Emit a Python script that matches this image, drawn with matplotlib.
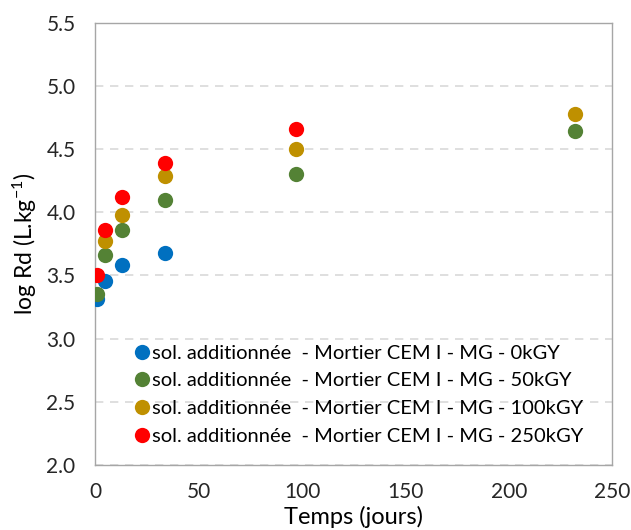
"""Scatter of log Rd vs time for irradiated mortar samples."""

import matplotlib
matplotlib.use("Agg")
import matplotlib.pyplot as plt

plt.rcParams["font.family"] = ["Lato", "DejaVu Sans"]
plt.rcParams["mathtext.default"] = "regular"

# data
days_0 = [1, 5, 13, 34]
logrd_0 = [3.31, 3.46, 3.58, 3.68]

days_50 = [1, 5, 13, 34, 97, 232]
logrd_50 = [3.35, 3.66, 3.86, 4.10, 4.30, 4.64]

days_100 = [5, 13, 34, 97, 232]
logrd_100 = [3.77, 3.98, 4.29, 4.50, 4.78]

days_250 = [1, 5, 13, 34, 97]
logrd_250 = [3.50, 3.86, 4.12, 4.39, 4.66]

prefix = "sol. additionnée  - Mortier CEM I - MG - "
series = [
    (days_0, logrd_0, "#0070C0", prefix + "0kGY"),
    (days_50, logrd_50, "#548235", prefix + "50kGY"),
    (days_100, logrd_100, "#BF9000", prefix + "100kGY"),
    (days_250, logrd_250, "#FF0000", prefix + "250kGY"),
]

x_ticks = [0, 50, 100, 150, 200, 250]
y_ticks = [2.0, 2.5, 3.0, 3.5, 4.0, 4.5, 5.0, 5.5]

fig = plt.figure(figsize=(6.31, 5.30), dpi=100)
ax = fig.add_axes([0.1506, 0.1226, 0.820, 0.8345])

for x, y, color, label in series:
    ax.plot(x, y, "o", color=color, markersize=11, markeredgewidth=0,
            label=label, zorder=3)

ax.set_xlim(0, 250)
ax.set_ylim(2.0, 5.5)
ax.set_xticks(x_ticks)
ax.set_yticks(y_ticks)
ax.set_yticklabels([f"{v:.1f}" for v in y_ticks])
ax.tick_params(length=0, labelsize=15, colors="#262626")
ax.tick_params(axis="y", pad=14)
ax.tick_params(axis="x", pad=12)

ax.yaxis.grid(True, color="#d9d9d9", linestyle=(0, (5, 4)), linewidth=1.2)
ax.set_axisbelow(True)
for spine in ax.spines.values():
    spine.set_color("#a6a6a6")
    spine.set_linewidth(1.0)

ax.set_xlabel("Temps (jours)", fontsize=17, color="#000000", va="top")
ax.xaxis.set_label_coords(0.5, -0.093)
ax.set_ylabel("log Rd (L.kg$^{-1}$)", fontsize=16.5, color="#000000", va="center")
ax.yaxis.set_label_coords(-0.135, 0.5)

ax.legend(loc="upper left", bbox_to_anchor=(0.062, 0.29), frameon=False,
          fontsize=14.5, handlelength=0.7, handletextpad=0.15,
          labelspacing=0.52, borderaxespad=0)

fig.savefig("out.png", dpi=100, facecolor="white")
